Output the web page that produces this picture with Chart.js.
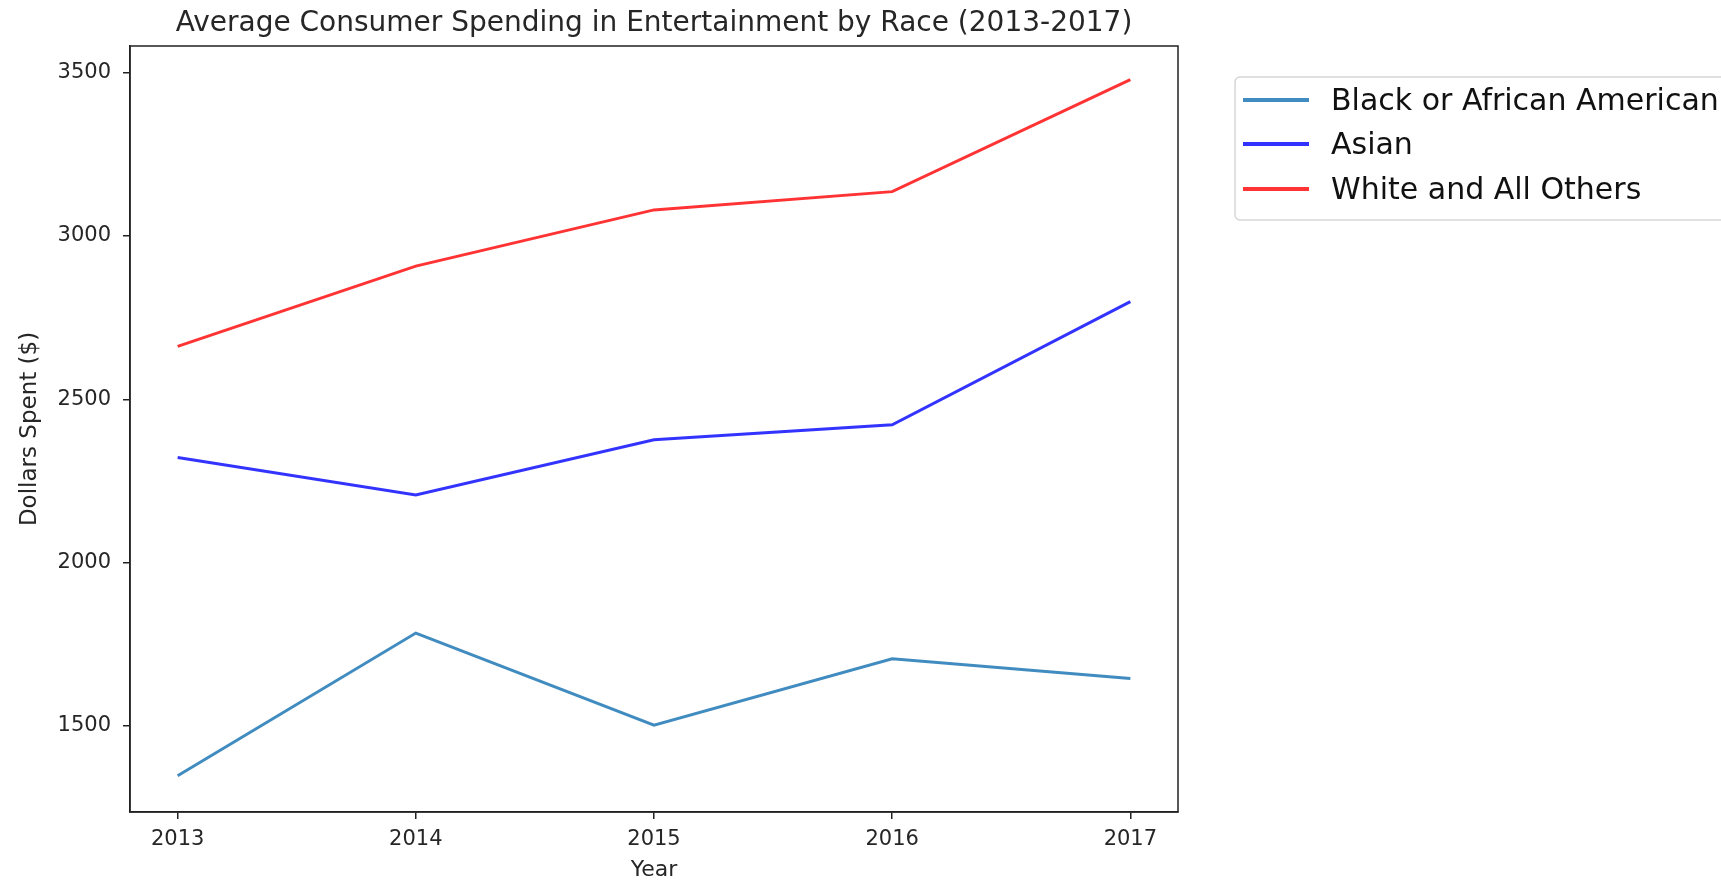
<!DOCTYPE html>
<html>
<head>
<meta charset="utf-8">
<title>Average Consumer Spending in Entertainment by Race</title>
<script src="https://cdn.jsdelivr.net/npm/chart.js@4/dist/chart.umd.min.js"></script>
<style>
  html, body { margin:0; padding:0; background:#fff; }
  #wrap { width:1721px; height:881px; position:relative; }
</style>
</head>
<body>
<div id="wrap"><canvas id="chart"></canvas></div>
<script>
// values
const years = [2013, 2014, 2015, 2016, 2017];
const blackAfrican = [1347, 1784, 1502, 1705, 1645];
const asian = [2322, 2207, 2376, 2422, 2799];
const whiteOthers = [2662, 2908, 3080, 3136, 3479];
const yTicks = [1500, 2000, 2500, 3000, 3500];

const titleText = "Average Consumer Spending in Entertainment by Race (2013-2017)";
const FONT = "'DejaVu Sans', sans-serif";
const INK = "#262626";

const pts = (vals) => years.map((y,i)=>({x:y, y:vals[i]}));

// box round the plot + title, matplotlib style
const frame = {
  id: "frame",
  afterDraw(c){
    const a = c.chartArea, ctx = c.ctx;
    ctx.save();
    ctx.strokeStyle = "#222";
    ctx.lineWidth = 1.5;
    ctx.strokeRect(a.left, a.top, a.right-a.left, a.bottom-a.top);
    ctx.fillStyle = INK;
    ctx.font = "28px " + FONT;
    ctx.textAlign = "center";
    ctx.textBaseline = "alphabetic";
    ctx.fillText(titleText, (a.left+a.right)/2, 31);
    ctx.restore();
  }
};

// legend outside the axes, top right (it runs off the canvas edge like the original)
const sideLegend = {
  id: "sideLegend",
  afterDraw(c){
    const ctx = c.ctx;
    const x0 = 1235, y0 = 77, rowY = [100, 144, 189];
    ctx.save();
    ctx.strokeStyle = "#d6d6d6";
    ctx.lineWidth = 1.5;
    ctx.beginPath();
    ctx.roundRect(x0, y0, 600, 143, 5);
    ctx.stroke();
    c.data.datasets.forEach((ds,i)=>{
      ctx.strokeStyle = ds.borderColor;
      ctx.lineWidth = 4;
      ctx.beginPath();
      ctx.moveTo(x0+8, rowY[i]);
      ctx.lineTo(x0+74, rowY[i]);
      ctx.stroke();
      ctx.fillStyle = "#111";
      ctx.font = "30px " + FONT;
      ctx.textAlign = "left";
      ctx.textBaseline = "middle";
      ctx.fillText(ds.label, x0+96, rowY[i]+2);
    });
    ctx.restore();
  }
};

const tickFont = { family: FONT, size: 21 };

new Chart(document.getElementById("chart").getContext("2d"), {
  type: "line",
  data: {
    datasets: [
      { label:"Black or African American", data: pts(blackAfrican), borderColor:"rgba(31,119,180,0.85)" },
      { label:"Asian", data: pts(asian), borderColor:"rgba(0,0,255,0.8)" },
      { label:"White and All Others", data: pts(whiteOthers), borderColor:"rgba(255,0,0,0.8)" },
    ]
  },
  options: {
    responsive: true,
    maintainAspectRatio: false,
    animation: false,
    layout: { padding: { left:0, top:46, right:543, bottom:0 } },
    elements: {
      line: { borderWidth: 3, tension: 0, fill: false },
      point: { radius: 0, hoverRadius: 0 }
    },
    plugins: { legend: { display:false }, title: { display:false }, tooltip: { enabled:false } },
    scales: {
      x: {
        type: "linear",
        min: 2012.8, max: 2017.2,
        afterBuildTicks: s => { s.ticks = years.map(v=>({value:v})); },
        afterFit: s => { s.height = 69; },
        ticks: { color: INK, font: tickFont, padding: 8, autoSkip:false, maxRotation:0, callback: v => String(v) },
        grid: { drawOnChartArea:false, tickLength:7, color:"#222", lineWidth:1.5 },
        border: { display:true, color:"#222", width:1.5 },
        title: { display:true, text:"Year", color: INK, font:{ family:FONT, size:22, lineHeight:1 }, padding:{ top:0, bottom:0 } }
      },
      y: {
        min: 1236, max: 3582,
        afterBuildTicks: s => { s.ticks = yTicks.map(v=>({value:v})); },
        afterFit: s => { s.width = 130; },
        ticks: { color: INK, font: tickFont, padding: 12, autoSkip:false, callback: v => String(v) },
        grid: { drawOnChartArea:false, tickLength:7, color:"#222", lineWidth:1.5 },
        border: { display:true, color:"#222", width:1.5 },
        title: { display:true, text:"Dollars Spent ($)", color: INK, font:{ family:FONT, size:23, lineHeight:1.2 }, padding:{ top:16, bottom:0 } }
      }
    }
  },
  plugins: [frame, sideLegend]
});
</script>
</body>
</html>
